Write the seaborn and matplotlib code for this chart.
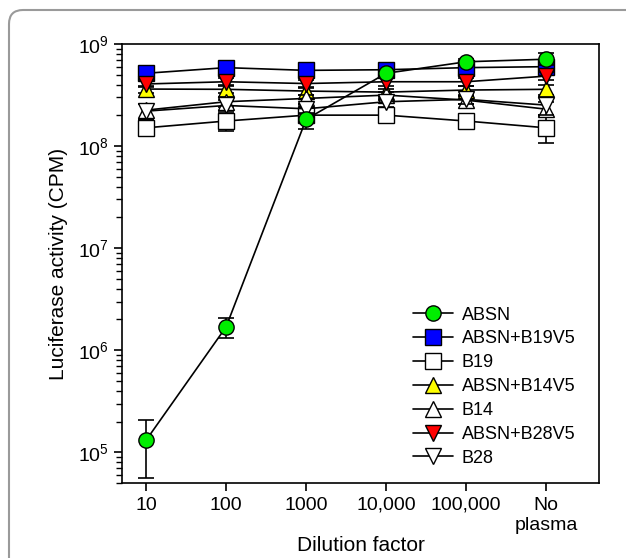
import numpy as np
import pandas as pd
import matplotlib
matplotlib.use("Agg")
import matplotlib.pyplot as plt
import seaborn as sns
from matplotlib.patches import FancyBboxPatch

# dilution categories (x axis)
dilutions = ["10", "100", "1000", "10,000", "100,000", "No\nplasma"]

series = ["ABSN", "ABSN+B19V5", "B19", "ABSN+B14V5", "B14", "ABSN+B28V5", "B28"]
markers = {"ABSN": "o", "ABSN+B19V5": "s", "B19": "s", "ABSN+B14V5": "^",
           "B14": "^", "ABSN+B28V5": "v", "B28": "v"}
fills = {"ABSN": "#00ee00", "ABSN+B19V5": "#0000ff", "B19": "white", "ABSN+B14V5": "#ffff00",
         "B14": "white", "ABSN+B28V5": "#ff0000", "B28": "white"}

# luciferase activity (CPM)
absn = [1.31e5, 1.69e6, 1.83e8, 5.17e8, 6.7e8, 7.1e8]
absn_b19v5 = [5.17e8, 5.87e8, 5.52e8, 5.6e8, 5.87e8, 6.0e8]
b19 = [1.51e8, 1.76e8, 2.01e8, 2.01e8, 1.76e8, 1.51e8]
absn_b14v5 = [3.62e8, 3.6e8, 3.46e8, 3.38e8, 3.54e8, 3.6e8]
b14 = [2.25e8, 2.72e8, 2.93e8, 3.16e8, 2.82e8, 2.3e8]
absn_b28v5 = [4.06e8, 4.27e8, 4.1e8, 4.27e8, 4.27e8, 4.85e8]
b28 = [2.2e8, 2.5e8, 2.32e8, 2.72e8, 2.87e8, 2.52e8]

# error bar ends (lower, upper)
absn_lo = [5.6e4, 1.31e6, 1.47e8, 4.8e8, 6.2e8, 6.2e8]
absn_hi = [2.06e5, 2.07e6, 2.1e8, 5.6e8, 7.2e8, 8.2e8]
absn_b19v5_lo = [4.7e8, 5.4e8, 5.0e8, 5.2e8, 5.4e8, 5.5e8]
absn_b19v5_hi = [5.6e8, 6.3e8, 6.0e8, 6.0e8, 6.3e8, 6.6e8]
b19_lo = [1.25e8, 1.4e8, 1.8e8, 1.8e8, 1.6e8, 1.08e8]
b19_hi = [1.8e8, 2.1e8, 2.2e8, 2.25e8, 1.95e8, 2.0e8]
absn_b14v5_lo = [3.3e8, 3.3e8, 3.2e8, 3.1e8, 3.2e8, 3.2e8]
absn_b14v5_hi = [3.9e8, 3.9e8, 3.75e8, 3.65e8, 3.9e8, 3.95e8]
b14_lo = [1.85e8, 2.4e8, 2.6e8, 2.9e8, 2.6e8, 1.95e8]
b14_hi = [2.6e8, 3.0e8, 3.2e8, 3.4e8, 3.1e8, 2.7e8]
absn_b28v5_lo = [3.8e8, 4.0e8, 3.8e8, 3.9e8, 3.9e8, 4.4e8]
absn_b28v5_hi = [4.4e8, 4.6e8, 4.4e8, 4.6e8, 4.6e8, 5.3e8]
b28_lo = [1.8e8, 2.2e8, 2.05e8, 2.4e8, 2.6e8, 2.0e8]
b28_hi = [2.6e8, 2.8e8, 2.6e8, 3.0e8, 3.1e8, 3.0e8]

values = {"ABSN": (absn, absn_lo, absn_hi),
          "ABSN+B19V5": (absn_b19v5, absn_b19v5_lo, absn_b19v5_hi),
          "B19": (b19, b19_lo, b19_hi),
          "ABSN+B14V5": (absn_b14v5, absn_b14v5_lo, absn_b14v5_hi),
          "B14": (b14, b14_lo, b14_hi),
          "ABSN+B28V5": (absn_b28v5, absn_b28v5_lo, absn_b28v5_hi),
          "B28": (b28, b28_lo, b28_hi)}

rows = []
for s in series:
    for i, v in enumerate(values[s][0]):
        rows.append({"series": s, "pos": i, "cpm": v})
df = pd.DataFrame(rows)

sns.set_style("ticks")
plt.rcParams["font.family"] = ["Liberation Sans", "DejaVu Sans"]
plt.rcParams["mathtext.fontset"] = "custom"
plt.rcParams["mathtext.rm"] = "Liberation Sans"
plt.rcParams["text.color"] = "black"
plt.rcParams["axes.labelcolor"] = "black"
plt.rcParams["xtick.color"] = "black"
plt.rcParams["ytick.color"] = "black"

fig = plt.figure(figsize=(6.26, 5.58), dpi=100)
ax = fig.add_axes([0.1949, 0.1344, 0.7621, 0.7867])

# later series on top, ABSN drawn last
draw_order = series[1:] + series[:1]
for k, s in enumerate(draw_order):
    y, lo, hi = values[s]
    sub = df[df["series"] == s]
    xs = np.arange(len(y))
    ax.errorbar(xs, y, yerr=[np.array(y) - np.array(lo), np.array(hi) - np.array(y)],
                fmt="none", ecolor="black", elinewidth=1.2, capsize=5.5, capthick=1.2,
                zorder=2 + k)
    sns.lineplot(data=sub, x="pos", y="cpm", ax=ax, color="black", linewidth=1.2,
                 marker=markers[s], markersize=11, markerfacecolor=fills[s],
                 markeredgecolor="black", markeredgewidth=1.0, zorder=3 + k,
                 label=s)

ax.set_yscale("log")
ax.set_ylim(5e4, 1e9)
ax.set_xlim(-0.3, 5.66)
ax.set_xticks(range(len(dilutions)))
ax.set_xticklabels(dilutions, fontsize=14, linespacing=1.25)
ax.tick_params(axis="y", labelsize=14)
ax.tick_params(which="major", length=6, width=1.2, direction="out", colors="black")
ax.tick_params(which="minor", length=4, width=1.0, direction="out", colors="black")
ax.tick_params(axis="x", which="major", pad=4)
ax.tick_params(axis="x", which="minor", bottom=False)
ax.set_xlabel("Dilution factor", fontsize=15, labelpad=1)
ax.set_ylabel("Luciferase activity (CPM)", fontsize=15, labelpad=7)
for sp in ax.spines.values():
    sp.set_linewidth(1.2)
    sp.set_color("black")

h, l = ax.get_legend_handles_labels()
order = [l.index(s) for s in series]
ax.legend([h[i] for i in order], [l[i] for i in order], loc="lower right",
          bbox_to_anchor=(0.985, 0.0), frameon=False, fontsize=13,
          handlelength=2.2, labelspacing=0.38, handletextpad=0.5)

# rounded outer frame
frame = FancyBboxPatch((0.09, -0.3), 6.6, 5.78, boxstyle="round,pad=0,rounding_size=0.14",
                       transform=fig.dpi_scale_trans, facecolor="none",
                       edgecolor="#9a9a9a", linewidth=1.5)
fig.add_artist(frame)

fig.savefig("out.png", dpi=100)
